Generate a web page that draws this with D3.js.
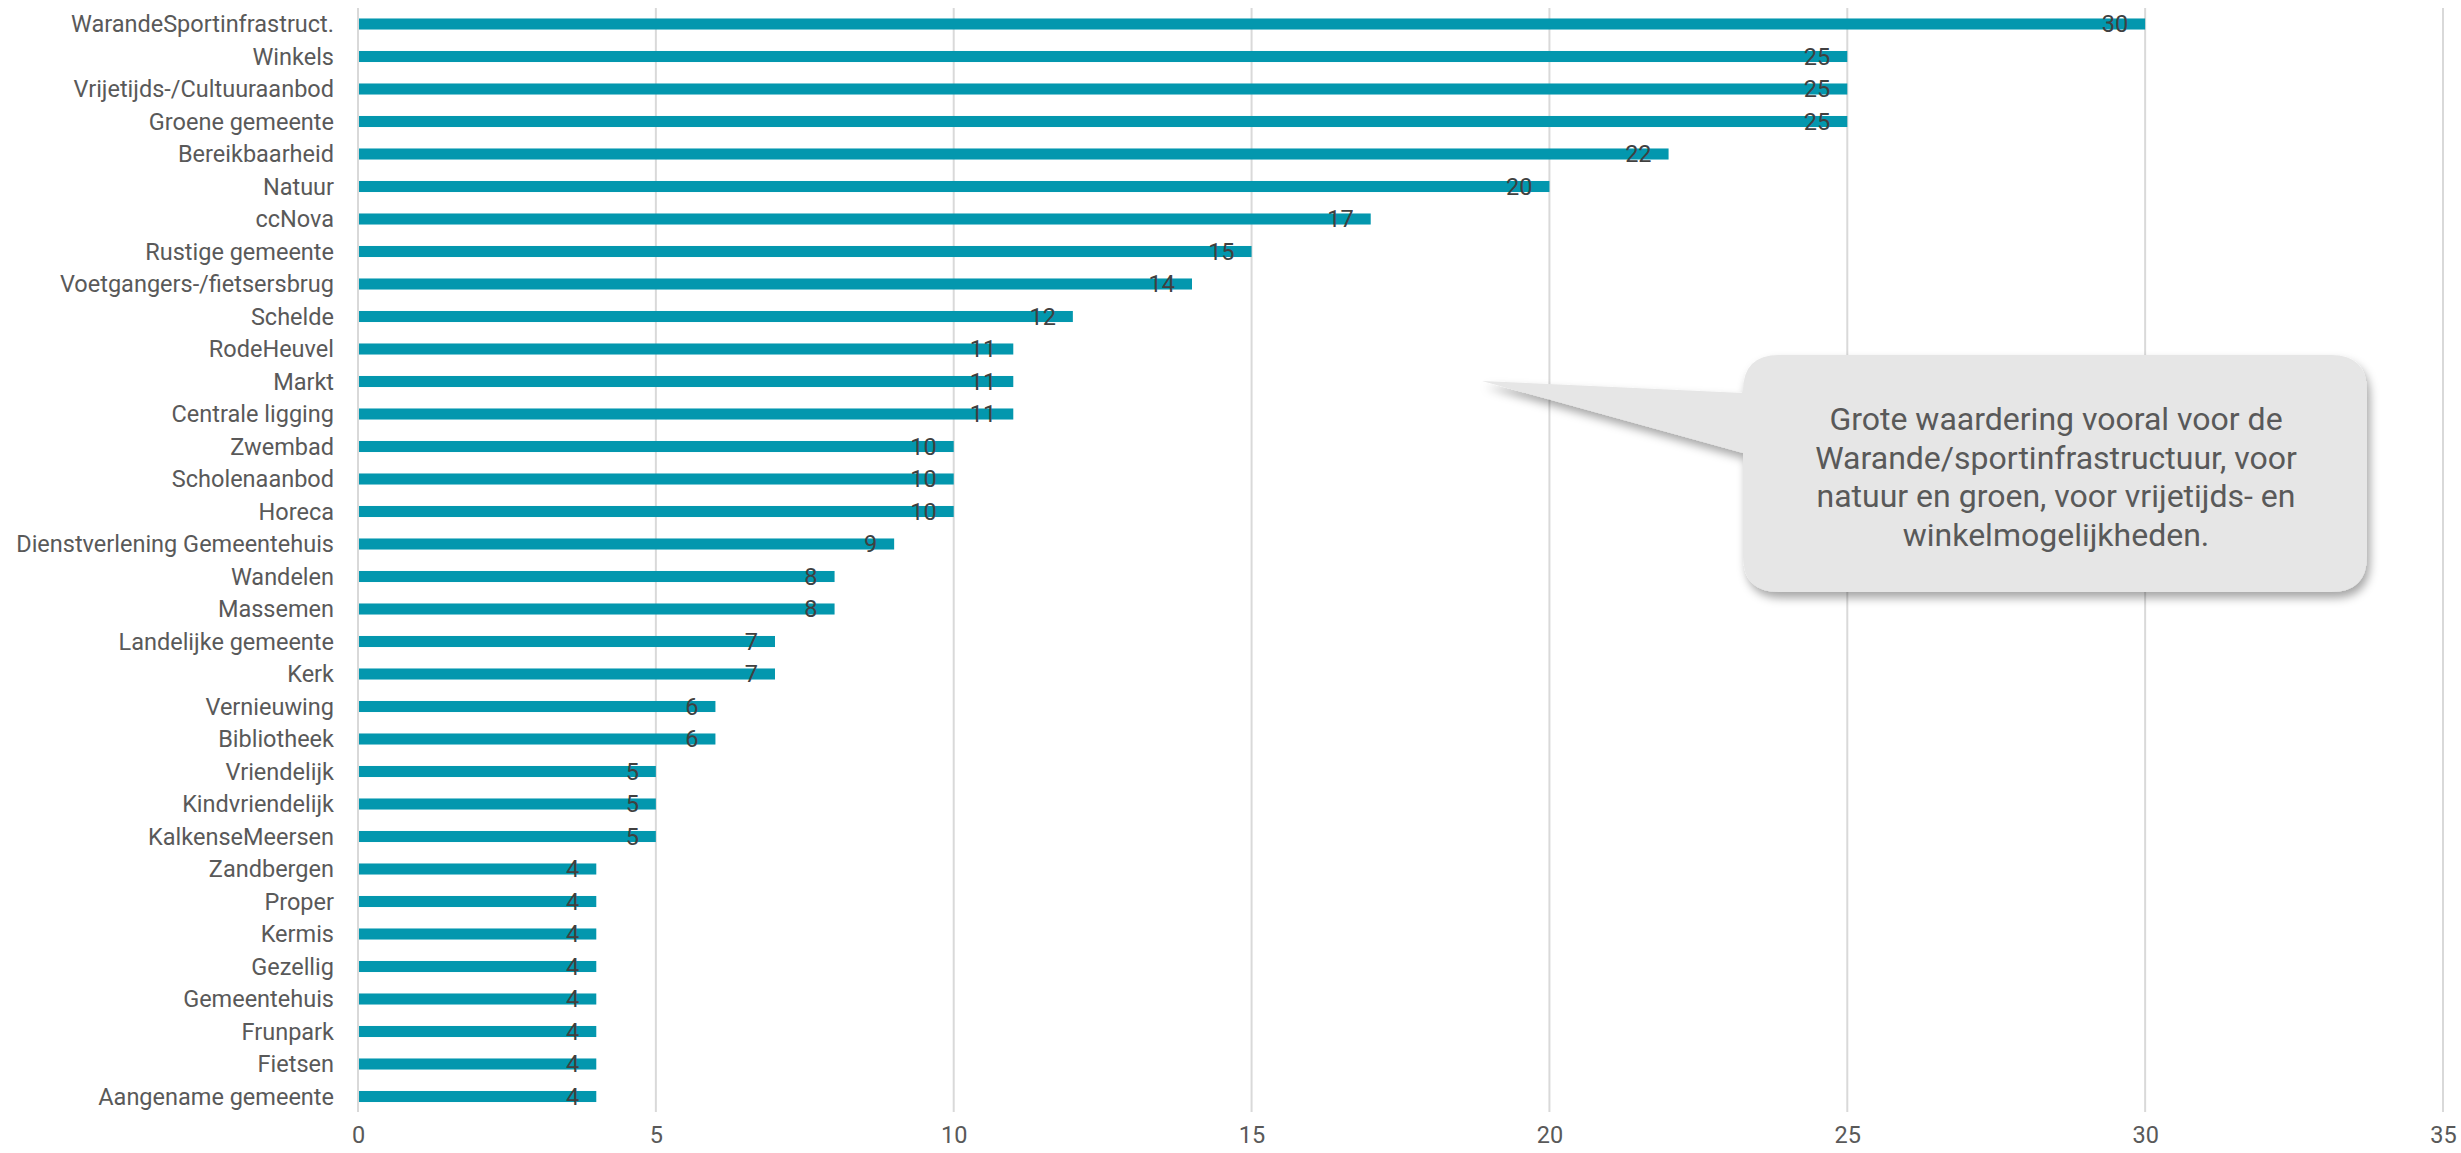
<!DOCTYPE html>
<html>
<head>
<meta charset="utf-8">
<script src="https://cdn.jsdelivr.net/npm/d3@7"></script>
<style>
  html, body { margin: 0; padding: 0; background: #ffffff; }
  svg { display: block; }
  text { font-family: Roboto, "Noto Sans", sans-serif; }
</style>
</head>
<body>
<svg id="chart" width="2461" height="1153"></svg>
<script>
// Waardering per thema (aantal vermeldingen)
const categories = [
  "WarandeSportinfrastruct.", "Winkels", "Vrijetijds-/Cultuuraanbod", "Groene gemeente",
  "Bereikbaarheid", "Natuur", "ccNova", "Rustige gemeente", "Voetgangers-/fietsersbrug",
  "Schelde", "RodeHeuvel", "Markt", "Centrale ligging", "Zwembad", "Scholenaanbod",
  "Horeca", "Dienstverlening Gemeentehuis", "Wandelen", "Massemen", "Landelijke gemeente",
  "Kerk", "Vernieuwing", "Bibliotheek", "Vriendelijk", "Kindvriendelijk", "KalkenseMeersen",
  "Zandbergen", "Proper", "Kermis", "Gezellig", "Gemeentehuis", "Frunpark", "Fietsen",
  "Aangename gemeente"
];
const values = [30, 25, 25, 25, 22, 20, 17, 15, 14, 12, 11, 11, 11, 10, 10, 10, 9, 8, 8, 7,
  7, 6, 6, 5, 5, 5, 4, 4, 4, 4, 4, 4, 4, 4];
const xTicks = [0, 5, 10, 15, 20, 25, 30, 35];
const calloutLines = [
  "Grote waardering vooral voor de",
  "Warande/sportinfrastructuur, voor",
  "natuur en groen, voor vrijetijds- en",
  "winkelmogelijkheden."
];

const data = categories.map((c, i) => ({ cat: c, val: values[i] }));

const svg = d3.select("#chart");

const x = d3.scaleLinear().domain([0, 35]).range([358, 2443]);
const y = d3.scaleBand().domain(categories).range([7.75, 1112.75])
  .paddingInner(0.66).paddingOuter(0.33);

const plotTop = 8, plotBottom = 1112;
const fontSize = 23.5;

// vertical gridlines
svg.append("g").selectAll("line").data(xTicks).join("line")
  .attr("x1", d => x(d)).attr("x2", d => x(d))
  .attr("y1", plotTop).attr("y2", plotBottom)
  .attr("stroke", "#d9d9d9").attr("stroke-width", 2);

// x tick labels
const xAxis = d3.axisBottom(x).tickValues(xTicks).tickSize(0).tickPadding(0);
const gx = svg.append("g").attr("transform", `translate(0, ${plotBottom + 14})`).call(xAxis);
gx.select(".domain").remove();
gx.selectAll("text")
  .attr("font-size", fontSize).attr("fill", "#595959")
  .attr("font-family", "Roboto, sans-serif")
  .attr("dy", "0.71em");

// category labels
const yAxis = d3.axisLeft(y).tickSize(0).tickPadding(0);
const gy = svg.append("g").attr("transform", "translate(334, 0)").call(yAxis);
gy.select(".domain").remove();
gy.selectAll("text")
  .attr("font-size", fontSize).attr("fill", "#595959")
  .attr("font-family", "Roboto, sans-serif")
  .attr("dy", "0.35em");

// bars
svg.append("g").selectAll("rect").data(data).join("rect")
  .attr("x", x(0) + 1)
  .attr("y", d => y(d.cat))
  .attr("width", d => x(d.val) - x(0) - 1)
  .attr("height", y.bandwidth())
  .attr("fill", "#0397ae");

// value labels inside the bar end
svg.append("g").selectAll("text").data(data).join("text")
  .attr("x", d => x(d.val) - 17)
  .attr("y", d => y(d.cat) + y.bandwidth() / 2)
  .attr("dy", "0.35em")
  .attr("text-anchor", "end")
  .attr("font-size", fontSize)
  .attr("fill", "#404040")
  .text(d => d.val);

// callout bubble
const defs = svg.append("defs");
const f = defs.append("filter").attr("id", "shadow")
  .attr("x", "-20%").attr("y", "-20%").attr("width", "140%").attr("height", "150%");
f.append("feDropShadow").attr("dx", 3).attr("dy", 6).attr("stdDeviation", 5)
  .attr("flood-color", "#000").attr("flood-opacity", 0.35);

const bx0 = 1743, bx1 = 2367, by0 = 355, by1 = 592, r = 36;
const tip = [1482, 381], ta = 393, tb = 453;
const p = d3.path();
p.moveTo(bx0 + r, by0);
p.lineTo(bx1 - r, by0);
p.quadraticCurveTo(bx1, by0, bx1, by0 + r);
p.lineTo(bx1, by1 - r);
p.quadraticCurveTo(bx1, by1, bx1 - r, by1);
p.lineTo(bx0 + r, by1);
p.quadraticCurveTo(bx0, by1, bx0, by1 - r);
p.lineTo(bx0, tb);
p.lineTo(tip[0], tip[1]);
p.lineTo(bx0, ta);
p.lineTo(bx0, by0 + r);
p.quadraticCurveTo(bx0, by0, bx0 + r, by0);
p.closePath();

svg.append("path").attr("d", p.toString())
  .attr("fill", "#e6e6e6")
  .attr("filter", "url(#shadow)");

svg.append("g").selectAll("text").data(calloutLines).join("text")
  .attr("x", (bx0 + bx1) / 2 + 1)
  .attr("y", (d, i) => 419 + i * 38.5)
  .attr("dy", "0.35em")
  .attr("text-anchor", "middle")
  .attr("font-size", 32)
  .attr("fill", "#595959")
  .text(d => d);
</script>
</body>
</html>
